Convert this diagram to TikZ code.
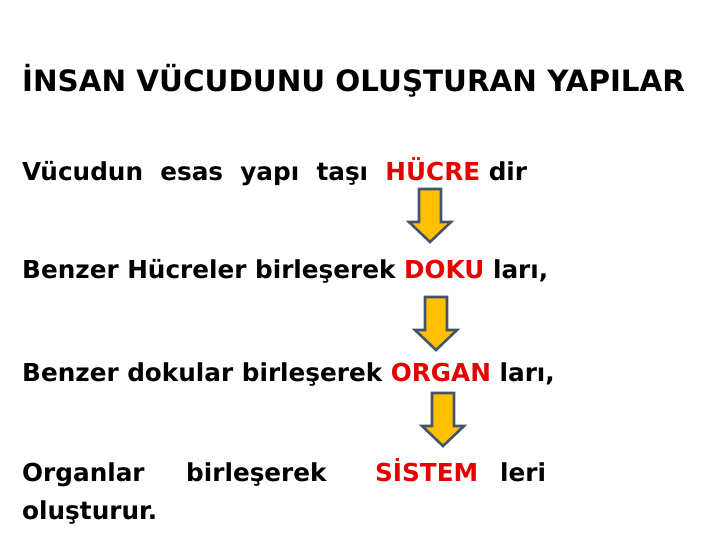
\documentclass[tikz,border=0pt]{standalone}
\usepackage{fontspec}
\setmainfont{DejaVu Sans}
\usetikzlibrary{positioning}
\definecolor{cArrowFill}{RGB}{255, 192, 0}
\definecolor{cArrowDraw}{RGB}{68, 84, 106}
\definecolor{cKeyWord}{RGB}{230, 0, 0}
\tikzset{
    % --- metin ---
    titleText/.style={
        anchor=base west, inner sep=0pt,
        font=\fontsize{29.5}{34}\selectfont\bfseries
    },
    bodyText/.style={
        anchor=base west, inner sep=0pt,
        font=\fontsize{24.8}{29}\selectfont\bfseries
    },
    %
    % --- ok ---
    blockArrow/.pic={
        \filldraw[cArrowDraw, fill=cArrowFill, line width=2.6pt, line join=miter]
            (-11,0) -- (11,0) -- (11,33) -- (21,33) -- (0,53)
            -- (-21,33) -- (-11,33) -- cycle;
    }
}
\newcommand{\keyw}[1]{\textcolor{cKeyWord}{#1}}

\begin{document}
\begin{tikzpicture}[x=1bp, y=-1bp]

	\useasboundingbox (0,0) rectangle (720,540);

	% =========================================
	% 1. Baslik
	% =========================================

	\node [titleText] (title) at (22,92) {İNSAN VÜCUDUNU OLUŞTURAN YAPILAR};

	% =========================================
	% 2. Satirlar
	% =========================================

	\node [bodyText] (hucre) at (22,181) {Vücudun\ \ esas\ \ yapı\ \ taşı\ \ \keyw{HÜCRE} dir};
	\node [bodyText] (doku) at (22,279) {Benzer Hücreler birleşerek \keyw{DOKU} ları,};
	\node [bodyText] (organ) at (22,381) {Benzer dokular birleşerek \keyw{ORGAN} ları,};

	% --- son satir (iki yana yasli) ---
	\node [bodyText] (organlar) at (22,481) {Organlar};
	\node [bodyText] (birlesrek) at (186,481) {birleşerek};
	\node [bodyText] (sistem) at (375,481) {\keyw{SİSTEM}};
	\node [bodyText] (leri) at (500,481) {leri};
	\node [bodyText] (olusturur) at (22,519) {oluşturur.};

	% =========================================
	% 3. Oklar
	% =========================================

	\pic (okA) at (430,189) {blockArrow};
	\pic (okB) at (436,297) {blockArrow};
	\pic (okC) at (443,393) {blockArrow};

\end{tikzpicture}
\end{document}
